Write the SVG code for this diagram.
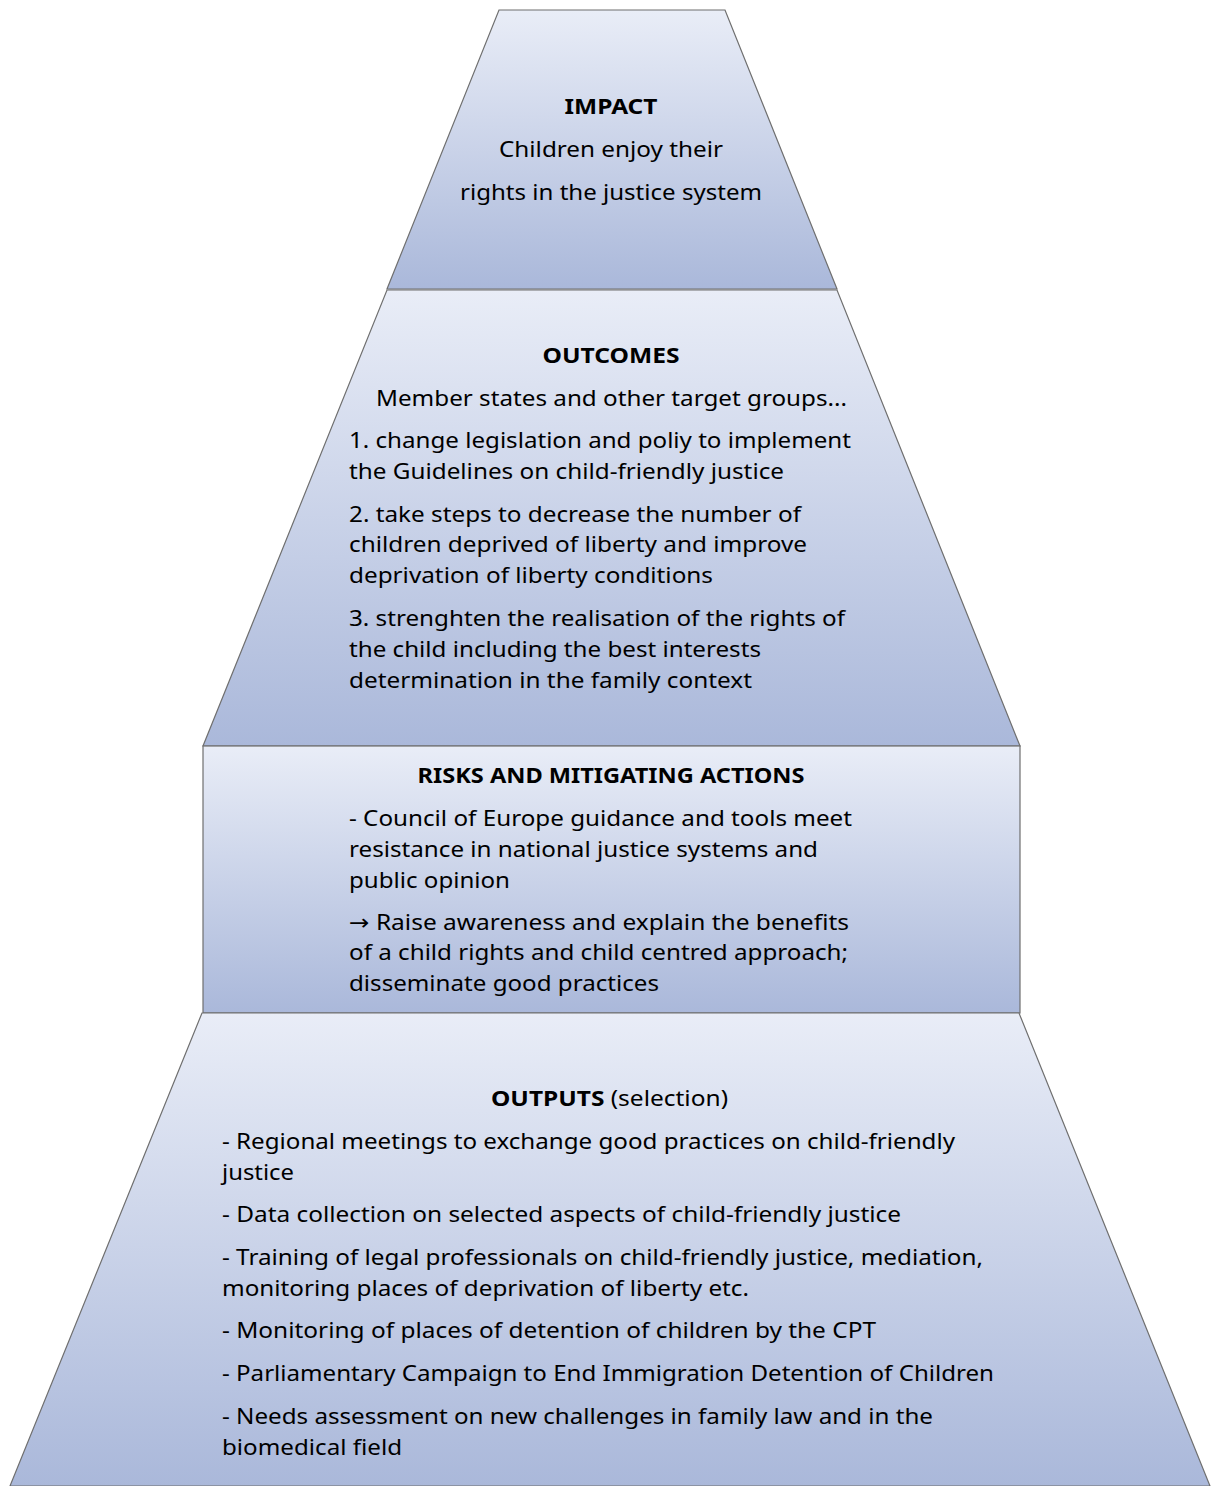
<svg xmlns="http://www.w3.org/2000/svg" width="1211" height="1486" viewBox="0 0 1211 1486">
<style>
.shape{fill:url(#g);stroke:#6f6f6f;stroke-width:1.2}
text{font-family:"Noto Sans","Open Sans",sans-serif;font-size:22px;fill:#000}
.b{font-weight:bold}
.c{text-anchor:middle}
.arr{font-family:"DejaVu Sans",sans-serif}
</style>
<defs>
<linearGradient id="g" x1="0" y1="0" x2="0" y2="1">
<stop offset="0" stop-color="#e9edf7"/>
<stop offset="1" stop-color="#aab8da"/>
</linearGradient>
</defs>
<rect width="1211" height="1486" fill="#fff"/>
<g id="connectors"></g>
<g id="impact">
<polygon class="shape" points="499,10 725,10 837,289 387,289"/>
<text class="b c" x="611" y="114" textLength="93" lengthAdjust="spacingAndGlyphs">IMPACT</text>
<text class="c" x="611" y="157" textLength="224" lengthAdjust="spacingAndGlyphs">Children enjoy their</text>
<text class="c" x="611" y="200" textLength="302" lengthAdjust="spacingAndGlyphs">rights in the justice system</text>
</g>
<g id="outcomes">
<polygon class="shape" points="387,290 837,290 1020,746 203,746"/>
<text class="b c" x="611" y="363" textLength="137" lengthAdjust="spacingAndGlyphs">OUTCOMES</text>
<text x="376" y="406" textLength="471" lengthAdjust="spacingAndGlyphs">Member states and other target groups...</text>
<text x="349" y="448" textLength="502" lengthAdjust="spacingAndGlyphs">1. change legislation and poliy to implement</text>
<text x="349" y="479" textLength="435" lengthAdjust="spacingAndGlyphs">the Guidelines on child-friendly justice</text>
<text x="349" y="522" textLength="452" lengthAdjust="spacingAndGlyphs">2. take steps to decrease the number of</text>
<text x="349" y="552" textLength="458" lengthAdjust="spacingAndGlyphs">children deprived of liberty and improve</text>
<text x="349" y="583" textLength="364" lengthAdjust="spacingAndGlyphs">deprivation of liberty conditions</text>
<text x="349" y="626" textLength="496" lengthAdjust="spacingAndGlyphs">3. strenghten the realisation of the rights of</text>
<text x="349" y="657" textLength="412" lengthAdjust="spacingAndGlyphs">the child including the best interests</text>
<text x="349" y="688" textLength="403" lengthAdjust="spacingAndGlyphs">determination in the family context</text>
</g>
<g id="risks">
<rect class="shape" x="203" y="746" width="817" height="267"/>
<text class="b c" x="611" y="783" textLength="387" lengthAdjust="spacingAndGlyphs">RISKS AND MITIGATING ACTIONS</text>
<text x="349" y="826" textLength="503" lengthAdjust="spacingAndGlyphs">- Council of Europe guidance and tools meet</text>
<text x="349" y="857" textLength="469" lengthAdjust="spacingAndGlyphs">resistance in national justice systems and</text>
<text x="349" y="888" textLength="161" lengthAdjust="spacingAndGlyphs">public opinion</text>
<text x="349" y="930" textLength="500" lengthAdjust="spacingAndGlyphs"><tspan class="arr">→</tspan> Raise awareness and explain the benefits</text>
<text x="349" y="960" textLength="499" lengthAdjust="spacingAndGlyphs">of a child rights and child centred approach;</text>
<text x="349" y="991" textLength="310" lengthAdjust="spacingAndGlyphs">disseminate good practices</text>
</g>
<g id="outputs">
<polygon class="shape" points="202,1013 1019,1013 1210,1486 10,1486"/>
<text x="491" y="1106" textLength="237" lengthAdjust="spacingAndGlyphs"><tspan class="b">OUTPUTS</tspan> (selection)</text>
<text x="222" y="1149" textLength="733" lengthAdjust="spacingAndGlyphs">- Regional meetings to exchange good practices on child-friendly</text>
<text x="222" y="1180" textLength="72" lengthAdjust="spacingAndGlyphs">justice</text>
<text x="222" y="1222" textLength="679" lengthAdjust="spacingAndGlyphs">- Data collection on selected aspects of child-friendly justice</text>
<text x="222" y="1265" textLength="761" lengthAdjust="spacingAndGlyphs">- Training of legal professionals on child-friendly justice, mediation,</text>
<text x="222" y="1296" textLength="527" lengthAdjust="spacingAndGlyphs">monitoring places of deprivation of liberty etc.</text>
<text x="222" y="1338" textLength="654" lengthAdjust="spacingAndGlyphs">- Monitoring of places of detention of children by the CPT</text>
<text x="222" y="1381" textLength="772" lengthAdjust="spacingAndGlyphs">- Parliamentary Campaign to End Immigration Detention of Children</text>
<text x="222" y="1424" textLength="711" lengthAdjust="spacingAndGlyphs">- Needs assessment on new challenges in family law and in the</text>
<text x="222" y="1455" textLength="180" lengthAdjust="spacingAndGlyphs">biomedical field</text>
</g>
</svg>
